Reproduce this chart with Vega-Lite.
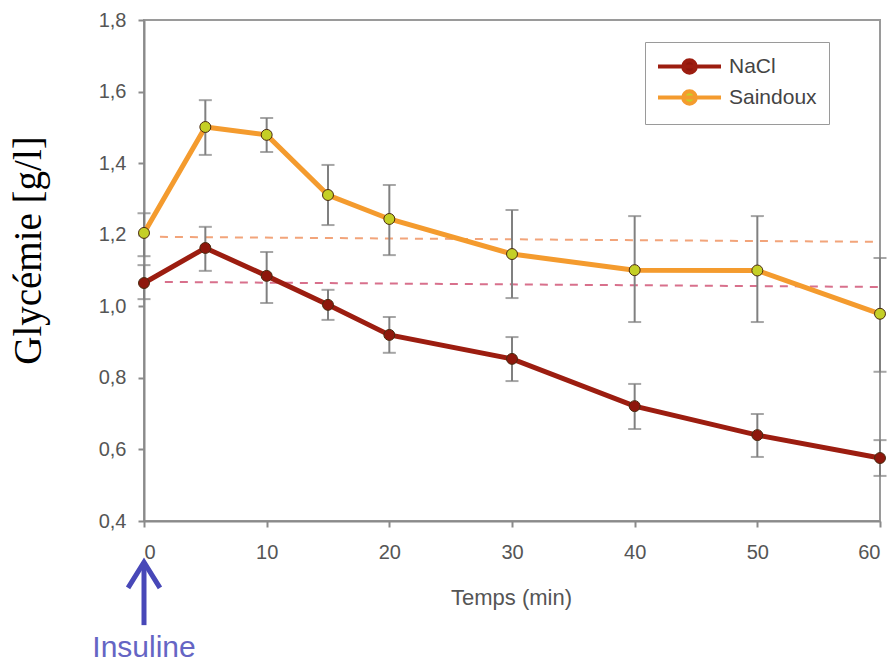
{
  "$schema": "https://vega.github.io/schema/vega-lite/v6.json",
  "width": 736,
  "height": 501,
  "autosize": "none",
  "padding": {"left": 144, "top": 20, "right": 14, "bottom": 142},
  "background": "white",
  "config": {
    "view": {"stroke": "#9a9a9a", "strokeWidth": 2},
    "axis": {
      "domainColor": "#8a8a8a", "domainWidth": 2, "tickColor": "#8a8a8a", "tickWidth": 2, "tickSize": 6,
      "labelColor": "#555555", "labelFont": "Liberation Sans", "labelFontSize": 20, "grid": false,
      "titleFontWeight": "normal"
    }
  },
  "datasets": {
    "d": [
      {"t": 0, "serie": "NaCl", "v": 1.065, "lo": 1.02, "hi": 1.115},
      {"t": 5, "serie": "NaCl", "v": 1.163, "lo": 1.099, "hi": 1.222},
      {"t": 10, "serie": "NaCl", "v": 1.085, "lo": 1.009, "hi": 1.152},
      {"t": 15, "serie": "NaCl", "v": 1.004, "lo": 0.962, "hi": 1.046},
      {"t": 20, "serie": "NaCl", "v": 0.92, "lo": 0.87, "hi": 0.97},
      {"t": 30, "serie": "NaCl", "v": 0.853, "lo": 0.791, "hi": 0.914},
      {"t": 40, "serie": "NaCl", "v": 0.721, "lo": 0.657, "hi": 0.783},
      {"t": 50, "serie": "NaCl", "v": 0.64, "lo": 0.579, "hi": 0.699},
      {"t": 60, "serie": "NaCl", "v": 0.576, "lo": 0.526, "hi": 0.626},
      {"t": 0, "serie": "Saindoux", "v": 1.205, "lo": 1.14, "hi": 1.26},
      {"t": 5, "serie": "Saindoux", "v": 1.501, "lo": 1.423, "hi": 1.576},
      {"t": 10, "serie": "Saindoux", "v": 1.479, "lo": 1.431, "hi": 1.526},
      {"t": 15, "serie": "Saindoux", "v": 1.311, "lo": 1.227, "hi": 1.395},
      {"t": 20, "serie": "Saindoux", "v": 1.244, "lo": 1.143, "hi": 1.339},
      {"t": 30, "serie": "Saindoux", "v": 1.146, "lo": 1.023, "hi": 1.269},
      {"t": 40, "serie": "Saindoux", "v": 1.101, "lo": 0.956, "hi": 1.252},
      {"t": 50, "serie": "Saindoux", "v": 1.1, "lo": 0.956, "hi": 1.252},
      {"t": 60, "serie": "Saindoux", "v": 0.979, "lo": 0.817, "hi": 1.135}
    ],
    "ref": [
      {"t": 1.3, "y": 1.194, "g": "s"},
      {"t": 60, "y": 1.18, "g": "s"},
      {"t": 1.7, "y": 1.068, "g": "n"},
      {"t": 60, "y": 1.054, "g": "n"}
    ],
    "shaft": [{"t": 0, "ya": 0.109, "yb": 0.278}],
    "head": [
      {"t": -1.3, "y": 0.213, "o": 1},
      {"t": 0, "y": 0.285, "o": 2},
      {"t": 1.3, "y": 0.213, "o": 3}
    ],
    "lab": [{"t": 0, "y": 0.046, "txt": "Insuline"}]
  },
  "layer": [
    {
      "data": {"name": "ref"},
      "transform": [{"filter": "datum.g === 's'"}],
      "mark": {"type": "line", "stroke": "#f2a47a", "strokeWidth": 2, "strokeDash": [8, 7]},
      "encoding": {
        "x": {"field": "t", "type": "quantitative", "title": "Temps (min)", "scale": {"domain": [0, 60], "nice": false, "zero": false},
              "axis": {"values": [0, 10, 20, 30, 40, 50, 60], "titleFont": "Liberation Sans", "titleFontSize": 22, "titleColor": "#555555", "labelPadding": 15, "titleX": 367, "titleY": 76, "titleBaseline": "middle"}},
        "y": {"field": "y", "type": "quantitative", "title": "Glycémie [g/l]", "scale": {"domain": [0.4, 1.8], "nice": false, "zero": false},
              "axis": {"values": [0.4, 0.6, 0.8, 1.0, 1.2, 1.4, 1.6, 1.8], "labelExpr": "replace(format(datum.value, '.1f'), '.', ',')", "labelPadding": 12, "titleFont": "Liberation Serif", "titleFontSize": 39, "titleColor": "#000000", "titleAngle": -90, "titleX": -116, "titleY": 230, "titleBaseline": "middle", "titleAlign": "center"}}
      }
    },
    {
      "data": {"name": "ref"},
      "transform": [{"filter": "datum.g === 'n'"}],
      "mark": {"type": "line", "stroke": "#d8708c", "strokeWidth": 2, "strokeDash": [8, 7]},
      "encoding": {
        "x": {"field": "t", "type": "quantitative", "title": "Temps (min)"},
        "y": {"field": "y", "type": "quantitative", "title": "Glycémie [g/l]"}
      }
    },
    {
      "data": {"name": "d"},
      "mark": {"type": "line", "strokeWidth": 5},
      "encoding": {
        "x": {"field": "t", "type": "quantitative", "title": "Temps (min)"},
        "y": {"field": "v", "type": "quantitative", "title": "Glycémie [g/l]"},
        "stroke": {"field": "serie", "type": "nominal", "scale": {"domain": ["NaCl", "Saindoux"], "range": ["#9c1d10", "#f49b2e"]},
                   "legend": {"title": null, "orient": "none", "legendX": 501, "legendY": 22, "strokeColor": "#9a9a9a", "padding": 12, "fillColor": "white",
                              "symbolType": "M-3,0H3M0.6,0A0.6,0.6 0 1,1 -0.6,0A0.6,0.6 0 1,1 0.6,0", "symbolSize": 441, "symbolStrokeWidth": 4, "symbolOffset": 20,
                              "labelFont": "Liberation Sans", "labelFontSize": 21, "labelColor": "#444444", "labelOffset": 27, "rowPadding": 2,
                              "labelExpr": "datum.label + '\u00a0\u00a0\u00a0\u00a0'",
                              "encode": {"symbols": {"update": {"fill": {"scale": "fill", "field": "value"}, "stroke": {"scale": "stroke", "field": "value"}}}}}}
      }
    },
    {
      "data": {"name": "d"},
      "mark": {"type": "errorbar", "ticks": {"size": 13, "color": "#808080", "thickness": 2}, "rule": {"color": "#808080", "strokeWidth": 2}},
      "encoding": {
        "x": {"field": "t", "type": "quantitative", "title": "Temps (min)"},
        "y": {"field": "lo", "type": "quantitative", "title": "Glycémie [g/l]"},
        "y2": {"field": "hi"}
      }
    },
    {
      "data": {"name": "d"},
      "mark": {"type": "point", "filled": true, "size": 120, "stroke": "#4a2a10", "strokeWidth": 1, "opacity": 1},
      "encoding": {
        "x": {"field": "t", "type": "quantitative", "title": "Temps (min)"},
        "y": {"field": "v", "type": "quantitative", "title": "Glycémie [g/l]"},
        "fill": {"field": "serie", "type": "nominal", "scale": {"domain": ["NaCl", "Saindoux"], "range": ["#8e170c", "#c4cf26"]}, "legend": null}
      }
    },
    {
      "data": {"name": "shaft"},
      "mark": {"type": "rule", "stroke": "#4848b8", "strokeWidth": 5},
      "encoding": {
        "x": {"field": "t", "type": "quantitative", "title": "Temps (min)"},
        "y": {"field": "ya", "type": "quantitative", "title": "Glycémie [g/l]"},
        "y2": {"field": "yb"}
      }
    },
    {
      "data": {"name": "head"},
      "mark": {"type": "line", "stroke": "#4848b8", "strokeWidth": 5, "strokeJoin": "miter"},
      "encoding": {
        "x": {"field": "t", "type": "quantitative", "title": "Temps (min)"},
        "y": {"field": "y", "type": "quantitative", "title": "Glycémie [g/l]"},
        "order": {"field": "o"}
      }
    },
    {
      "data": {"name": "lab"},
      "mark": {"type": "text", "font": "Liberation Sans", "fontSize": 30, "color": "#6565c4", "align": "center", "baseline": "middle"},
      "encoding": {
        "x": {"field": "t", "type": "quantitative", "title": "Temps (min)"},
        "y": {"field": "y", "type": "quantitative", "title": "Glycémie [g/l]"},
        "text": {"field": "txt"}
      }
    }
  ]
}
